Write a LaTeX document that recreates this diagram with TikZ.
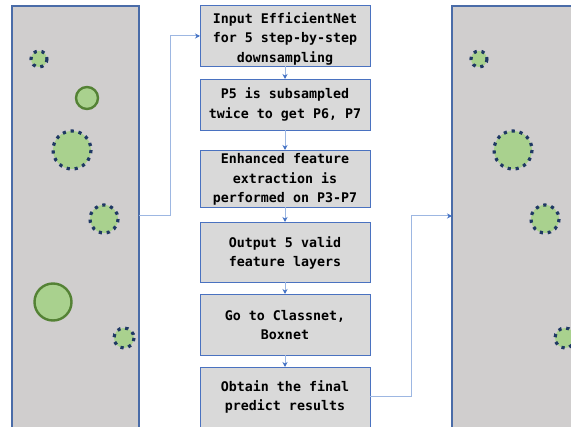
\documentclass[tikz,border=0pt]{standalone}
\usepackage{fontspec}
\newfontfamily\boxfont{DejaVu Sans Mono}
\usetikzlibrary{arrows.meta}
\definecolor{panelfill}{HTML}{D0CECE}
\definecolor{panelline}{HTML}{4A6CA8}
\definecolor{boxfill}{HTML}{D9D9D9}
\definecolor{boxline}{HTML}{4A72C0}
\definecolor{cfill}{HTML}{A9D18E}
\definecolor{cline}{HTML}{548235}
\definecolor{cdot}{HTML}{1F3864}
\definecolor{conn}{HTML}{9DB7E2}
\definecolor{tipc}{HTML}{4472C4}
\tikzset{
  panel/.style={fill=panelfill, draw=panelline, line width=1.4pt},
  stepbox/.style={fill=boxfill, draw=boxline, line width=0.8pt},
  label/.style={font=\boxfont\bfseries\fontsize{13.3}{19.5}\selectfont, align=center, text=black, inner sep=0pt},
  solidc/.style={fill=cfill, draw=cline, line width=2.4pt},
  dotc/.style={fill=cfill, draw=cdot, line width=3.2pt, dash pattern=on 3.2pt off 4.8pt},
  conn/.style={draw=conn, line width=1pt, -{Stealth[length=5pt,width=5pt,color=tipc]}},
}
\begin{document}
\begin{tikzpicture}[x=1pt,y=-1pt]
\useasboundingbox (0,0) rectangle (571,427);
\clip (0,0) rectangle (571,427);
% panels
\path[panel] (12,6) rectangle (139,440);
\path[panel] (452,6) rectangle (590,440);
% left panel circles
\path[dotc] (39,59) circle (8);
\path[solidc] (87,98) circle (11);
\path[dotc] (72,150) circle (19);
\path[dotc] (104,219) circle (14);
\path[solidc] (53,302) circle (18.5);
\path[dotc] (124,338) circle (10);
% right panel circles
\path[dotc] (479,59) circle (8);
\path[dotc] (513,150) circle (19);
\path[dotc] (545,219) circle (14);
\path[dotc] (565,338) circle (10);
% boxes
\draw[stepbox] (200,5) rectangle (370,66);
\node[label] (b1) at (285,38.5) {Input EfficientNet\\for 5 step-by-step\\downsampling};
\draw[stepbox] (200,79) rectangle (370,130);
\node[label] (b2) at (285,104.5) {P5 is subsampled\\twice to get P6, P7};
\draw[stepbox] (200,150) rectangle (370,207);
\node[label] (b3) at (285,179.5) {Enhanced feature\\extraction is\\performed on P3-P7};
\draw[stepbox] (200,222) rectangle (370,282);
\node[label] (b4) at (285,253) {Output 5 valid\\feature layers};
\draw[stepbox] (200,294) rectangle (370,355);
\node[label] (b5) at (285,325) {Go to Classnet,\\Boxnet};
\draw[stepbox] (200,367) rectangle (370,440);
\node[label] (b6) at (285,397) {Obtain the final\\predict results};
% box anchors
\coordinate (b1t) at (200,36);
\coordinate (b1b) at (285,66);
\coordinate (b2t) at (285,79);
\coordinate (b2b) at (285,130);
\coordinate (b3t) at (285,150);
\coordinate (b3b) at (285,207);
\coordinate (b4t) at (285,222);
\coordinate (b4b) at (285,282);
\coordinate (b5t) at (285,294);
\coordinate (b5b) at (285,355);
\coordinate (b6t) at (285,367);
\coordinate (b6r) at (370,397);
\coordinate (lp) at (139,216);
\coordinate (rp) at (452,216);
% connectors
\draw[conn] (lp) -- (170,216) |- (b1t);
\draw[conn] (b1b) -- (b2t);
\draw[conn] (b2b) -- (b3t);
\draw[conn] (b3b) -- (b4t);
\draw[conn] (b4b) -- (b5t);
\draw[conn] (b5b) -- (b6t);
\draw[conn] (b6r) -- (411,397) |- (rp);
\end{tikzpicture}
\end{document}
